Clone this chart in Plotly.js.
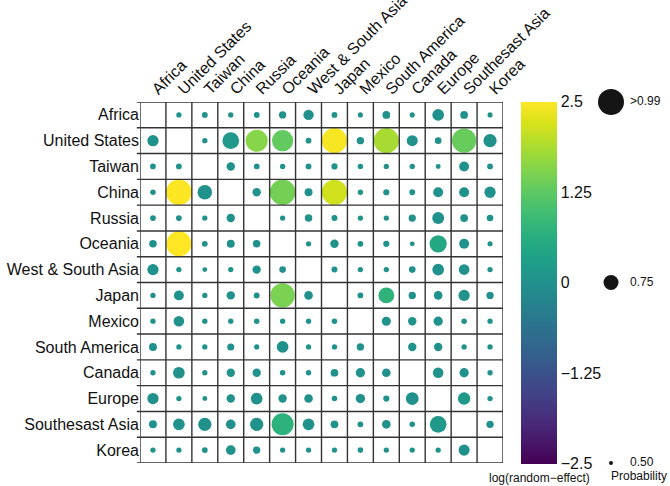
<!DOCTYPE html>
<html><head><meta charset="utf-8">
<script src="https://cdn.plot.ly/plotly-3.0.1.min.js"></script>
<style>html,body{margin:0;padding:0;background:#fff}</style>
</head><body><div id="chart" style="width:670px;height:486px"></div>
<script>
const regions = ['Africa','United States','Taiwan','China','Russia','Oceania','West & South Asia','Japan','Mexico','South America','Canada','Europe','Southesast Asia','Korea'];

// probability (marker size), rows = regions top to bottom, cols = regions left to right
const probability = [
  [null,.53,.54,.53,.545,.575,.645,.54,.525,.585,.525,.675,.585,.525],
  [.665,null,.53,.79,.91,.89,.54,.98,.575,.98,.66,.56,.96,.71],
  [.54,.54,null,.60,.54,.53,.54,.55,.53,.53,.53,.52,.635,.54],
  [.535,.99,.74,null,.60,.99,.59,.98,.53,.55,.54,.635,.635,.665],
  [.54,.54,.53,.60,null,.53,.58,.545,.53,.53,.575,.68,.585,.56],
  [.58,.98,.54,.59,.58,null,.53,.60,.54,.55,.52,.80,.635,.525],
  [.665,.53,.52,.53,.60,.56,null,.545,.53,.53,.56,.675,.65,.53],
  [.53,.635,.53,.60,.545,.96,.605,null,.54,.77,.575,.605,.665,.575],
  [.53,.65,.53,.53,.535,.53,.53,.535,null,.615,.60,.62,.535,.53],
  [.59,.53,.53,.57,.53,.675,.53,.53,.575,null,.60,.60,.53,.53],
  [.53,.675,.53,.60,.60,.535,.53,.585,.62,.605,null,.65,.62,.53],
  [.665,.53,.52,.60,.675,.60,.605,.535,.62,.55,.70,null,.69,.53],
  [.59,.675,.71,.63,.71,.91,.675,.585,.54,.605,.535,.79,null,.575],
  [.53,.53,.54,.63,.575,.53,.53,.53,.535,.53,.53,.53,.66,null]
];

// log(random-effect) (marker colour)
const effect = [
  [null,0,0,0,0,0,0,0,0,0,0,0,0,0],
  [0,null,0,0.15,1.6,1.3,0,2.45,0,1.85,0,0,1.35,0],
  [0,0,null,0,0,0,0,0,0,0,0,0,0,0],
  [0,2.5,0,null,0,1.45,0,2.15,0,0,0,0,0,0],
  [0,0,0,0,null,0,0,0,0,0,0,0,0,0],
  [0,2.5,0,0,0,null,0,0,0,0,0,0.5,0,0],
  [0,0,0,0,0,0,null,0,0,0,0,0,0,0],
  [0,0,0,0,0,1.5,0,null,0,0.75,0,0,0,0],
  [0,0,0,0,0,0,0,0,null,0,0,0,0,0],
  [0,0,0,0,0,0,0,0,0,null,0,0,0,0],
  [0,0,0,0,0,0,0,0,0,0,null,0,0,0],
  [0,0,0,0,0,0,0,0,0,0,0,null,0.15,0],
  [0,0,0,0,0,0.7,0,0,0,0,0,0.15,null,0],
  [0,0,0,0,0,0,0,0,0,0,0,0,0,null]
];

const colorTicks = [-2.5,-1.25,0,1.25,2.5];
const colorTickText = ['\u22122.5','\u22121.25','0','1.25','2.5'];
const legendProbs = [1.0, 0.75, 0.5];
const legendText = ['>0.99','0.75','0.50'];

const FONT = '"Liberation Sans", Arial, Helvetica, sans-serif';
const sizeOf = p => 4 + 44*(p - 0.5);

const xs=[], ys=[], sz=[], col=[];
for (let r=0;r<regions.length;r++){
  for (let c=0;c<regions.length;c++){
    const p = probability[r][c];
    if (p===null) continue;
    xs.push(c); ys.push(r); sz.push(sizeOf(p)); col.push(effect[r][c]);
  }
}

const n = regions.length;
const W = 670, L = 140, plotW = 363;
const mainFrac = plotW/(W-L);

const traces = [
  {
    type:'scatter', mode:'markers', x:xs, y:ys, hoverinfo:'skip',
    marker:{size:sz, color:col, colorscale:'Viridis', cmin:-2.5, cmax:2.5, line:{width:0}, opacity:1,
      showscale:true,
      colorbar:{x:(521-L)/(W-L), xanchor:'left', xref:'paper', xpad:0, ypad:0,
        y:0.5, yanchor:'middle', len:362, lenmode:'pixels', thickness:36, thicknessmode:'pixels',
        outlinewidth:0, ticks:'', tickvals:colorTicks, ticktext:colorTickText,
        tickfont:{family:FONT, size:16, color:'#111'}}
    },
    showlegend:false
  },
  {
    type:'scatter', mode:'markers', x:legendProbs.map(()=>0), y:legendProbs, xaxis:'x2', yaxis:'y2',
    cliponaxis:false,
    marker:{size:legendProbs.map(sizeOf), color:'#151515', opacity:1, line:{width:0}}, hoverinfo:'skip', showlegend:false
  },
  {
    type:'scatter', mode:'text', x:legendProbs.map(()=>19), y:legendProbs, xaxis:'x2', yaxis:'y2',
    cliponaxis:false,
    text:legendText, textposition:'middle right', textfont:{family:FONT, size:12, color:'#111'},
    hoverinfo:'skip', showlegend:false
  }
];

const shapes = [];
for (let k=0;k<=n;k++){
  shapes.push({type:'line', xref:'paper', yref:'y', x0:-0.006, x1:mainFrac, y0:k-0.5, y1:k-0.5, line:{color:'#333', width:1.4}});
  shapes.push({type:'line', xref:'x', yref:'paper', x0:k-0.5, x1:k-0.5, y0:0, y1:1, line:{color:'#333', width:1.4}});
}

const layout = {
  width:670, height:486, paper_bgcolor:'#fff', plot_bgcolor:'#fff',
  margin:{l:L, r:0, t:101.5, b:22.5},
  font:{family:FONT, color:'#111'},
  xaxis:{domain:[0,mainFrac], range:[-0.5,n-0.5], side:'top', tickmode:'array', tickvals:regions.map((_,i)=>i), ticktext:regions,
    tickangle:-45, tickfont:{family:FONT, size:16, color:'#111'}, showgrid:false, zeroline:false, ticks:'', fixedrange:true},
  yaxis:{range:[n-0.5,-0.5], tickmode:'array', tickvals:regions.map((_,i)=>i), ticktext:regions,
    tickfont:{family:FONT, size:16, color:'#111'}, showgrid:false, zeroline:false, ticks:'', fixedrange:true},
  xaxis2:{domain:[(590-L)/(W-L),1], range:[-21,59], anchor:'y2', visible:false, fixedrange:true},
  yaxis2:{domain:[0,1], range:[0.5,1.0], anchor:'x2', visible:false, fixedrange:true},
  shapes:shapes,
  annotations:[
    {xref:'paper', yref:'paper', x:(539-L)/(W-L), y:(463.5-479)/362, xanchor:'center', yanchor:'middle', showarrow:false,
     text:'log(random\u2212effect)', font:{family:FONT, size:12, color:'#111'}},
    {xref:'paper', yref:'paper', x:(639-L)/(W-L), y:(463.5-477)/362, xanchor:'center', yanchor:'middle', showarrow:false,
     text:'Probability', font:{family:FONT, size:12, color:'#111'}}
  ]
};

Plotly.newPlot('chart', traces, layout, {displayModeBar:false, staticPlot:true});
</script></body></html>
